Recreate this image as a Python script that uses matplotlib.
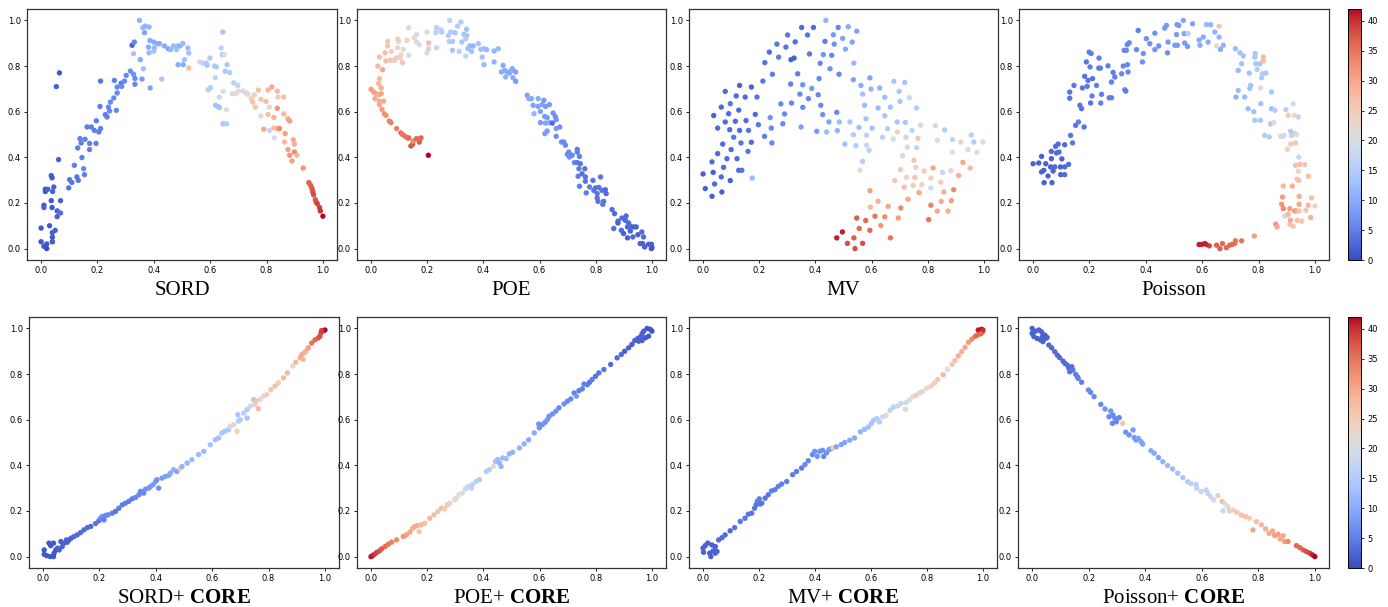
import numpy as np
import matplotlib
matplotlib.use('Agg')
import matplotlib.pyplot as plt

plt.rcParams['mathtext.fontset'] = 'custom'
plt.rcParams['mathtext.rm'] = 'Liberation Serif'
plt.rcParams['mathtext.bf'] = 'Liberation Serif:bold'

# --- data: (x, y, label value), one list per panel ---
sord = [
    (0.00, 0.09, 1), (0.00, 0.03, 1), (0.01, 0.01, 1), (0.02, 0.00, 0), (0.02, 0.02, 1),
    (0.03, 0.10, 1), (0.04, 0.03, 1), (0.04, 0.07, 2), (0.04, 0.05, 1), (0.04, 0.03, 2),
    (0.05, 0.08, 2), (0.01, 0.19, 1), (0.01, 0.18, 2), (0.015, 0.26, 1), (0.015, 0.25, 1),
    (0.024, 0.26, 2), (0.036, 0.21, 1), (0.036, 0.32, 2), (0.039, 0.31, 1), (0.039, 0.18, 1),
    (0.041, 0.25, 2), (0.045, 0.27, 2), (0.057, 0.165, 2), (0.057, 0.14, 2), (0.069, 0.21, 2),
    (0.069, 0.156, 3), (0.062, 0.39, 2), (0.054, 0.71, 2), (0.065, 0.77, 1),
    (0.098, 0.266, 4), (0.101, 0.302, 4), (0.109, 0.29, 4), (0.118, 0.365, 5), (0.127, 0.314, 4),
    (0.132, 0.299, 4), (0.130, 0.441, 5), (0.138, 0.482, 5), (0.142, 0.463, 5), (0.145, 0.399, 5),
    (0.151, 0.350, 6), (0.154, 0.324, 5), (0.156, 0.479, 5), (0.163, 0.533, 5), (0.172, 0.461, 5),
    (0.172, 0.434, 5), (0.178, 0.533, 5), (0.189, 0.518, 5), (0.196, 0.560, 5), (0.195, 0.461, 5),
    (0.205, 0.511, 5), (0.211, 0.526, 5), (0.209, 0.623, 5), (0.211, 0.734, 4), (0.228, 0.587, 5),
    (0.234, 0.577, 5), (0.239, 0.620, 6), (0.243, 0.603, 6), (0.246, 0.642, 6), (0.258, 0.660, 6),
    (0.260, 0.737, 5), (0.267, 0.606, 6), (0.270, 0.682, 6), (0.270, 0.708, 6), (0.284, 0.725, 5),
    (0.286, 0.711, 6), (0.296, 0.734, 6), (0.302, 0.759, 6), (0.317, 0.778, 7), (0.323, 0.891, 2),
    (0.328, 0.764, 7), (0.333, 0.745, 6), (0.333, 0.720, 6), (0.331, 0.905, 6),
    (0.328, 0.854, 13), (0.352, 0.828, 10), (0.358, 0.743, 8), (0.363, 0.788, 13), (0.349, 1.00, 11),
    (0.361, 0.968, 12), (0.367, 0.946, 9), (0.369, 0.975, 11), (0.383, 0.971, 11), (0.381, 0.883, 10),
    (0.383, 0.858, 12), (0.386, 0.912, 10), (0.387, 0.704, 9), (0.400, 0.905, 10), (0.400, 0.865, 13),
    (0.402, 0.880, 12), (0.414, 0.898, 10), (0.420, 0.898, 10), (0.428, 0.743, 14), (0.438, 0.888, 10),
    (0.452, 0.875, 9), (0.459, 0.872, 11), (0.470, 0.888, 12), (0.480, 0.872, 13), (0.485, 0.888, 12),
    (0.486, 0.806, 10), (0.493, 0.888, 11), (0.503, 0.899, 12), (0.504, 0.806, 10), (0.509, 0.828, 13),
    (0.521, 0.879, 12), (0.524, 0.857, 13), (0.524, 0.791, 27),
    (0.563, 0.818, 24), (0.574, 0.813, 16), (0.586, 0.813, 15), (0.589, 0.803, 14), (0.593, 0.696, 16),
    (0.601, 0.705, 15), (0.599, 0.835, 15), (0.615, 0.800, 16), (0.618, 0.749, 17), (0.621, 0.796, 14),
    (0.619, 0.628, 13), (0.627, 0.623, 13), (0.633, 0.618, 13), (0.633, 0.664, 18), (0.639, 0.879, 17),
    (0.645, 0.949, 14), (0.644, 0.850, 13), (0.650, 0.850, 20), (0.646, 0.689, 21), (0.645, 0.547, 14),
    (0.658, 0.547, 15), (0.658, 0.609, 21), (0.653, 0.777, 14), (0.660, 0.806, 14), (0.669, 0.771, 15),
    (0.684, 0.726, 16), (0.679, 0.679, 21), (0.691, 0.679, 22), (0.698, 0.715, 17), (0.700, 0.690, 21),
    (0.716, 0.690, 20), (0.728, 0.682, 18), (0.734, 0.676, 22),
    (0.746, 0.657, 25), (0.751, 0.642, 27), (0.760, 0.620, 26), (0.757, 0.674, 23), (0.771, 0.695, 27),
    (0.780, 0.580, 21), (0.780, 0.654, 26), (0.790, 0.523, 30), (0.798, 0.645, 27), (0.805, 0.588, 27),
    (0.805, 0.695, 28), (0.810, 0.620, 22), (0.810, 0.518, 18), (0.819, 0.708, 30), (0.826, 0.575, 29),
    (0.826, 0.529, 27), (0.828, 0.485, 20), (0.838, 0.690, 28), (0.838, 0.615, 32), (0.840, 0.664, 25),
    (0.838, 0.526, 29), (0.846, 0.526, 33), (0.861, 0.664, 27), (0.861, 0.590, 28), (0.864, 0.467, 28),
    (0.866, 0.504, 31), (0.876, 0.569, 30), (0.882, 0.559, 31), (0.876, 0.434, 31), (0.882, 0.409, 32),
    (0.890, 0.384, 31), (0.895, 0.477, 30), (0.899, 0.458, 29), (0.899, 0.423, 33), (0.908, 0.409, 28),
    (0.930, 0.353, 32),
    (0.950, 0.289, 37), (0.955, 0.280, 36), (0.959, 0.270, 37), (0.962, 0.260, 37), (0.964, 0.248, 38),
    (0.967, 0.236, 38), (0.973, 0.215, 37), (0.976, 0.204, 38), (0.980, 0.197, 39), (0.988, 0.180, 39),
    (0.991, 0.165, 40), (1.000, 0.142, 42),
]

poe = [
    (0.204, 0.409, 42), (0.142, 0.450, 38), (0.148, 0.457, 37), (0.150, 0.471, 33), (0.162, 0.482, 36),
    (0.172, 0.467, 37), (0.172, 0.479, 36), (0.178, 0.485, 36), (0.130, 0.485, 36), (0.134, 0.485, 36),
    (0.121, 0.492, 35), (0.112, 0.500, 35), (0.106, 0.507, 35), (0.091, 0.526, 34), (0.071, 0.552, 34),
    (0.065, 0.559, 34), (0.053, 0.584, 32), (0.047, 0.591, 32), (0.039, 0.610, 31), (0.045, 0.646, 30),
    (0.030, 0.631, 30), (0.030, 0.645, 30), (0.014, 0.657, 30), (0.027, 0.674, 30), (0.036, 0.679, 30),
    (0.018, 0.679, 29), (0.009, 0.686, 31), (0.000, 0.698, 31), (0.036, 0.704, 29), (0.027, 0.723, 28),
    (0.030, 0.745, 28), (0.041, 0.784, 30), (0.024, 0.800, 28), (0.030, 0.839, 27), (0.050, 0.858, 27),
    (0.053, 0.822, 27), (0.059, 0.888, 26), (0.059, 0.908, 26), (0.068, 0.825, 26), (0.073, 0.864, 24),
    (0.083, 0.825, 25), (0.089, 0.836, 25), (0.095, 0.918, 25), (0.098, 0.908, 24), (0.095, 0.880, 22),
    (0.106, 0.849, 23), (0.104, 0.836, 24), (0.112, 0.815, 26), (0.115, 0.873, 23), (0.128, 0.912, 24),
    (0.134, 0.968, 22), (0.134, 0.847, 20), (0.154, 0.924, 22), (0.162, 0.939, 20), (0.162, 0.905, 19),
    (0.172, 0.894, 21), (0.199, 0.949, 21), (0.199, 0.858, 22), (0.205, 0.876, 18), (0.205, 0.901, 27),
    (0.231, 0.946, 16), (0.233, 0.968, 16), (0.233, 0.880, 18), (0.248, 0.959, 17), (0.252, 0.949, 15),
    (0.275, 0.934, 15), (0.278, 0.908, 15), (0.280, 1.000, 17), (0.284, 0.949, 15), (0.290, 0.908, 14),
    (0.290, 0.869, 14), (0.299, 0.946, 14), (0.308, 0.975, 15), (0.314, 0.864, 16), (0.320, 0.993, 15),
    (0.323, 0.905, 14), (0.331, 0.939, 13), (0.337, 0.920, 15), (0.340, 0.961, 13), (0.337, 0.844, 17),
    (0.341, 0.934, 14), (0.345, 0.876, 13), (0.351, 0.888, 12), (0.358, 0.864, 13), (0.363, 0.888, 11),
    (0.382, 0.898, 13), (0.391, 0.873, 13), (0.396, 0.839, 13), (0.402, 0.806, 12), (0.402, 0.876, 13),
    (0.412, 0.872, 12), (0.438, 0.866, 11), (0.453, 0.876, 12), (0.438, 0.818, 11), (0.470, 0.803, 10),
    (0.464, 0.774, 10), (0.476, 0.781, 10), (0.479, 0.752, 11), (0.485, 0.774, 10), (0.493, 0.769, 10),
    (0.503, 0.788, 9), (0.501, 0.781, 10), (0.505, 0.749, 10), (0.515, 0.774, 9), (0.515, 0.733, 8),
    (0.556, 0.672, 9), (0.562, 0.657, 10), (0.571, 0.657, 10), (0.577, 0.628, 9), (0.580, 0.591, 11),
    (0.595, 0.657, 10), (0.594, 0.623, 9), (0.603, 0.601, 9), (0.603, 0.552, 8), (0.609, 0.631, 9),
    (0.615, 0.650, 8), (0.618, 0.579, 8), (0.621, 0.550, 9), (0.621, 0.623, 8), (0.627, 0.574, 8),
    (0.619, 0.504, 8), (0.627, 0.515, 8), (0.635, 0.631, 8), (0.635, 0.552, 10), (0.645, 0.550, 3),
    (0.648, 0.594, 7), (0.656, 0.579, 7), (0.659, 0.526, 8), (0.659, 0.492, 7), (0.659, 0.565, 7),
    (0.672, 0.533, 7), (0.678, 0.467, 7), (0.686, 0.467, 6), (0.692, 0.453, 6), (0.699, 0.413, 6),
    (0.704, 0.423, 6), (0.706, 0.401, 7), (0.716, 0.409, 6), (0.724, 0.377, 6), (0.734, 0.435, 5),
    (0.734, 0.423, 5), (0.734, 0.377, 5), (0.740, 0.350, 5), (0.737, 0.317, 5), (0.742, 0.404, 5),
    (0.742, 0.273, 5), (0.745, 0.372, 4), (0.751, 0.328, 4), (0.761, 0.350, 4), (0.763, 0.314, 4),
    (0.763, 0.295, 4), (0.766, 0.244, 5), (0.778, 0.270, 5), (0.790, 0.299, 4), (0.793, 0.255, 4),
    (0.799, 0.266, 4), (0.805, 0.241, 4), (0.805, 0.222, 4), (0.808, 0.207, 4), (0.811, 0.268, 4),
    (0.817, 0.314, 4), (0.822, 0.255, 4), (0.825, 0.194, 4), (0.828, 0.207, 4), (0.834, 0.258, 3),
    (0.837, 0.241, 3), (0.858, 0.171, 3), (0.867, 0.153, 3), (0.864, 0.088, 3), (0.879, 0.120, 3),
    (0.879, 0.112, 2), (0.891, 0.080, 3), (0.893, 0.134, 3), (0.899, 0.066, 2), (0.905, 0.124, 3),
    (0.908, 0.143, 3), (0.913, 0.047, 2), (0.913, 0.095, 2), (0.917, 0.112, 3), (0.923, 0.077, 2),
    (0.923, 0.098, 3), (0.932, 0.051, 3), (0.935, 0.095, 2), (0.944, 0.095, 2), (0.950, 0.061, 2),
    (0.958, 0.022, 2), (0.964, 0.073, 3), (0.967, 0.022, 2), (0.970, 0.051, 3), (0.974, 0.007, 2),
    (0.988, 0.019, 2), (0.998, 0.019, 2), (0.998, 0.000, 1), (1.000, 0.004, 1),
]

mv = [
    (0.000, 0.327, 2), (0.008, 0.263, 2), (0.032, 0.229, 2), (0.032, 0.380, 3), (0.036, 0.334, 2),
    (0.038, 0.583, 2), (0.041, 0.283, 3), (0.052, 0.528, 3), (0.052, 0.416, 3), (0.065, 0.620, 3),
    (0.065, 0.314, 3), (0.067, 0.248, 2), (0.070, 0.458, 3), (0.073, 0.356, 3), (0.079, 0.689, 3),
    (0.079, 0.555, 3), (0.085, 0.394, 3), (0.091, 0.591, 3), (0.095, 0.521, 3), (0.097, 0.635, 4),
    (0.097, 0.298, 2), (0.100, 0.434, 3), (0.109, 0.488, 4), (0.115, 0.558, 3), (0.118, 0.669, 3),
    (0.121, 0.394, 3), (0.127, 0.343, 3), (0.127, 0.607, 3), (0.130, 0.715, 2), (0.130, 0.518, 3),
    (0.135, 0.463, 4), (0.138, 0.343, 4), (0.150, 0.664, 3), (0.153, 0.561, 3), (0.162, 0.518, 4),
    (0.160, 0.426, 4), (0.172, 0.708, 2), (0.172, 0.466, 3), (0.175, 0.309, 12), (0.186, 0.588, 3),
    (0.192, 0.664, 4), (0.197, 0.543, 4), (0.213, 0.734, 4), (0.219, 0.492, 5), (0.220, 0.815, 4),
    (0.236, 0.861, 3), (0.239, 0.574, 7), (0.243, 0.528, 6), (0.245, 0.463, 6), (0.247, 0.764, 5),
    (0.263, 0.896, 4), (0.269, 0.839, 5), (0.277, 0.634, 6), (0.284, 0.547, 6), (0.290, 0.590, 6),
    (0.295, 0.883, 4), (0.301, 0.936, 4), (0.312, 0.721, 5), (0.315, 0.638, 6), (0.313, 0.828, 2),
    (0.324, 0.835, 2), (0.328, 0.906, 3), (0.337, 0.766, 5), (0.345, 0.677, 6), (0.349, 0.533, 9),
    (0.351, 0.969, 3), (0.355, 0.619, 6), (0.355, 0.718, 7), (0.372, 0.936, 4), (0.375, 0.657, 6),
    (0.379, 0.853, 4), (0.387, 0.702, 8), (0.393, 0.969, 3), (0.405, 0.514, 8), (0.410, 0.674, 6),
    (0.413, 0.745, 6), (0.417, 0.812, 6), (0.419, 0.628, 6), (0.426, 0.587, 7), (0.428, 0.850, 7),
    (0.434, 0.908, 5), (0.437, 1.000, 11), (0.440, 0.511, 12), (0.448, 0.555, 9), (0.452, 0.788, 7),
    (0.458, 0.847, 6), (0.464, 0.937, 8), (0.467, 0.896, 7), (0.476, 0.597, 6), (0.478, 0.517, 11),
    (0.481, 0.969, 6), (0.484, 0.764, 6), (0.485, 0.555, 12), (0.497, 0.921, 9), (0.505, 0.458, 13),
    (0.507, 0.874, 10), (0.517, 0.972, 10), (0.523, 0.555, 14), (0.531, 0.905, 9), (0.535, 0.499, 15),
    (0.535, 0.740, 9), (0.537, 0.813, 12), (0.547, 0.953, 9), (0.544, 0.451, 15), (0.555, 0.531, 13),
    (0.559, 0.343, 21), (0.562, 0.715, 10), (0.568, 0.382, 15), (0.568, 0.677, 13), (0.575, 0.628, 12),
    (0.580, 0.569, 13), (0.582, 0.496, 16), (0.582, 0.453, 18), (0.591, 0.431, 16), (0.594, 0.748, 9),
    (0.594, 0.254, 31), (0.598, 0.699, 11), (0.596, 0.182, 28), (0.602, 0.528, 13), (0.547, 0.134, 37),
    (0.579, 0.123, 36), (0.556, 0.088, 36), (0.594, 0.080, 36), (0.612, 0.142, 35), (0.623, 0.207, 29),
    (0.623, 0.616, 12), (0.629, 0.704, 11), (0.633, 0.101, 32), (0.639, 0.488, 16), (0.647, 0.139, 33),
    (0.647, 0.663, 12), (0.647, 0.582, 14), (0.657, 0.525, 15), (0.659, 0.185, 30), (0.667, 0.620, 13),
    (0.667, 0.047, 35), (0.677, 0.480, 20), (0.679, 0.733, 14), (0.683, 0.298, 26), (0.691, 0.555, 14),
    (0.692, 0.511, 24), (0.695, 0.134, 31), (0.698, 0.689, 14), (0.701, 0.645, 14), (0.703, 0.346, 25),
    (0.704, 0.178, 33), (0.710, 0.407, 23), (0.716, 0.269, 27), (0.718, 0.728, 14), (0.720, 0.553, 14),
    (0.722, 0.488, 18), (0.724, 0.312, 24), (0.727, 0.445, 20), (0.730, 0.216, 30), (0.734, 0.661, 18),
    (0.744, 0.518, 17), (0.748, 0.277, 25), (0.751, 0.387, 26), (0.754, 0.312, 26), (0.757, 0.356, 24),
    (0.760, 0.616, 15), (0.760, 0.442, 17), (0.765, 0.483, 26), (0.769, 0.245, 30), (0.774, 0.541, 19),
    (0.779, 0.280, 24), (0.787, 0.340, 25), (0.811, 0.266, 20), (0.811, 0.309, 24), (0.803, 0.127, 35),
    (0.811, 0.190, 34), (0.819, 0.353, 30), (0.827, 0.539, 19), (0.834, 0.164, 30), (0.834, 0.474, 20),
    (0.846, 0.291, 25), (0.848, 0.207, 30), (0.852, 0.334, 18), (0.857, 0.248, 29), (0.860, 0.520, 15),
    (0.872, 0.164, 29), (0.882, 0.341, 22), (0.884, 0.210, 31), (0.888, 0.478, 17), (0.888, 0.423, 21),
    (0.892, 0.258, 33), (0.910, 0.320, 29), (0.917, 0.467, 23), (0.925, 0.378, 30), (0.943, 0.434, 22),
    (0.951, 0.353, 28), (0.955, 0.498, 16), (0.964, 0.467, 15), (0.975, 0.422, 21), (0.996, 0.467, 20),
    (0.476, 0.047, 41), (0.496, 0.073, 41), (0.514, 0.023, 38), (0.537, 0.047, 37), (0.541, 0.000, 38),
    (0.568, 0.023, 38),
]

poisson = [
    (0.000, 0.372, 2), (0.020, 0.375, 2), (0.030, 0.404, 2), (0.030, 0.336, 2), (0.038, 0.343, 2),
    (0.039, 0.289, 2), (0.045, 0.372, 2), (0.053, 0.318, 2), (0.062, 0.358, 2), (0.065, 0.394, 2),
    (0.065, 0.426, 3), (0.067, 0.289, 2), (0.071, 0.340, 2), (0.077, 0.358, 3), (0.080, 0.448, 3),
    (0.083, 0.419, 3), (0.089, 0.458, 3), (0.092, 0.423, 3), (0.097, 0.358, 2), (0.098, 0.324, 2),
    (0.102, 0.393, 2), (0.112, 0.455, 3), (0.112, 0.358, 3), (0.112, 0.324, 3), (0.126, 0.369, 3),
    (0.130, 0.686, 4), (0.130, 0.659, 4), (0.133, 0.496, 4), (0.140, 0.463, 4), (0.145, 0.715, 4),
    (0.151, 0.540, 4), (0.161, 0.555, 5), (0.166, 0.628, 4), (0.172, 0.613, 4), (0.175, 0.704, 4),
    (0.181, 0.533, 4), (0.183, 0.755, 4), (0.189, 0.818, 4), (0.192, 0.711, 4), (0.195, 0.737, 4),
    (0.199, 0.861, 5), (0.202, 0.796, 5), (0.204, 0.638, 4), (0.206, 0.855, 5), (0.209, 0.669, 5),
    (0.211, 0.745, 4), (0.225, 0.715, 5), (0.233, 0.791, 5), (0.234, 0.835, 5), (0.239, 0.791, 5),
    (0.240, 0.638, 5), (0.243, 0.676, 5), (0.266, 0.801, 5), (0.270, 0.661, 5), (0.278, 0.661, 5),
    (0.278, 0.730, 5), (0.284, 0.772, 5), (0.290, 0.752, 5), (0.314, 0.766, 6), (0.320, 0.800, 6),
    (0.323, 0.869, 6), (0.325, 0.696, 6), (0.329, 0.690, 5), (0.331, 0.869, 6), (0.334, 0.894, 6),
    (0.335, 0.806, 6), (0.337, 0.774, 6), (0.341, 0.902, 6), (0.367, 0.872, 6), (0.373, 0.956, 5),
    (0.388, 0.818, 7), (0.391, 0.855, 7), (0.402, 0.920, 7), (0.414, 0.898, 7), (0.432, 0.872, 7),
    (0.432, 0.944, 7), (0.446, 0.888, 7), (0.467, 0.966, 8), (0.473, 0.978, 8), (0.477, 0.858, 7),
    (0.479, 0.905, 8), (0.503, 0.891, 8), (0.509, 0.938, 8), (0.511, 0.981, 8), (0.517, 0.978, 8),
    (0.512, 0.891, 8), (0.533, 1.000, 9), (0.536, 0.942, 9), (0.538, 0.901, 8), (0.548, 0.886, 8),
    (0.550, 0.942, 16), (0.566, 0.985, 9), (0.589, 0.914, 10), (0.592, 0.891, 10), (0.604, 0.927, 10),
    (0.615, 0.982, 12), (0.621, 0.905, 10), (0.630, 0.981, 11), (0.645, 0.949, 11), (0.651, 0.888, 22),
    (0.660, 0.974, 26), (0.660, 0.927, 11), (0.665, 0.873, 10), (0.675, 0.891, 11), (0.718, 0.876, 12),
    (0.720, 0.664, 11), (0.728, 0.693, 12), (0.728, 0.781, 12), (0.734, 0.858, 13), (0.740, 0.810, 13),
    (0.746, 0.845, 13), (0.751, 0.664, 12), (0.763, 0.613, 12), (0.767, 0.769, 13), (0.769, 0.702, 13),
    (0.772, 0.715, 13), (0.783, 0.600, 13), (0.787, 0.562, 14), (0.788, 0.855, 14), (0.787, 0.839, 14),
    (0.790, 0.810, 14), (0.795, 0.785, 15), (0.805, 0.810, 14), (0.807, 0.704, 21), (0.807, 0.562, 14),
    (0.808, 0.635, 13), (0.811, 0.749, 14), (0.814, 0.766, 15), (0.817, 0.839, 28), (0.817, 0.822, 27),
    (0.822, 0.496, 15), (0.826, 0.769, 14), (0.838, 0.489, 15), (0.843, 0.547, 14), (0.846, 0.686, 14),
    (0.846, 0.613, 13), (0.854, 0.552, 22), (0.858, 0.606, 15), (0.878, 0.492, 22), (0.885, 0.492, 19),
    (0.891, 0.496, 20), (0.897, 0.609, 16), (0.902, 0.435, 24), (0.905, 0.584, 25), (0.914, 0.458, 25),
    (0.914, 0.514, 15), (0.917, 0.496, 17), (0.923, 0.635, 20), (0.927, 0.584, 22), (0.930, 0.504, 26),
    (0.931, 0.463, 26), (0.935, 0.499, 21), (0.941, 0.577, 17), (0.943, 0.401, 18), (0.931, 0.365, 27),
    (0.937, 0.304, 27), (0.941, 0.339, 24), (0.943, 0.299, 27), (0.947, 0.369, 27), (0.964, 0.368, 26),
    (0.977, 0.317, 27), (0.920, 0.274, 29), (0.888, 0.274, 28), (0.885, 0.226, 31), (0.882, 0.194, 32),
    (0.888, 0.175, 33), (0.861, 0.107, 32), (0.866, 0.095, 30), (0.893, 0.142, 19), (0.905, 0.150, 28),
    (0.911, 0.175, 31), (0.913, 0.124, 30), (0.911, 0.107, 27), (0.923, 0.098, 26), (0.929, 0.165, 33),
    (0.935, 0.165, 30), (0.937, 0.124, 27), (0.944, 0.229, 29), (0.944, 0.194, 30), (0.944, 0.165, 26),
    (0.953, 0.120, 26), (0.968, 0.168, 26), (0.976, 0.190, 28), (0.988, 0.222, 27), (0.985, 0.136, 29),
    (1.000, 0.187, 24), (0.785, 0.055, 31), (0.740, 0.034, 35), (0.718, 0.034, 35), (0.716, 0.022, 35),
    (0.706, 0.018, 36), (0.698, 0.015, 36), (0.686, 0.004, 36), (0.672, 0.022, 36), (0.663, 0.000, 37),
    (0.651, 0.015, 37), (0.625, 0.012, 39), (0.615, 0.018, 40), (0.609, 0.022, 41), (0.598, 0.018, 41),
    (0.589, 0.018, 41),
]

sord_core = [
    (0.004, 0.029, 1), (0.004, 0.010, 1), (0.013, 0.004, 1), (0.025, 0.000, 1), (0.037, 0.000, 1),
    (0.039, 0.015, 1), (0.021, 0.059, 1), (0.027, 0.048, 1), (0.037, 0.059, 1), (0.045, 0.029, 1),
    (0.051, 0.037, 2), (0.057, 0.029, 2), (0.063, 0.066, 2), (0.068, 0.044, 2), (0.074, 0.059, 2),
    (0.083, 0.073, 2), (0.086, 0.063, 2), (0.092, 0.073, 2), (0.100, 0.081, 2), (0.110, 0.088, 3),
    (0.121, 0.095, 3), (0.133, 0.105, 3), (0.145, 0.117, 3), (0.157, 0.127, 3), (0.169, 0.132, 3),
    (0.186, 0.145, 4), (0.198, 0.157, 4), (0.204, 0.168, 6), (0.210, 0.176, 7), (0.216, 0.161, 5),
    (0.222, 0.180, 6), (0.230, 0.183, 6), (0.245, 0.190, 5), (0.257, 0.198, 4), (0.269, 0.212, 5),
    (0.281, 0.227, 5), (0.292, 0.234, 5), (0.304, 0.242, 5), (0.316, 0.253, 5), (0.328, 0.259, 6),
    (0.340, 0.271, 6), (0.346, 0.286, 6), (0.357, 0.278, 6), (0.363, 0.295, 7), (0.375, 0.300, 7),
    (0.381, 0.307, 8), (0.390, 0.315, 8), (0.399, 0.329, 8), (0.404, 0.337, 7), (0.410, 0.300, 7),
    (0.422, 0.344, 8), (0.434, 0.351, 9), (0.446, 0.356, 9), (0.452, 0.366, 10), (0.463, 0.381, 11),
    (0.475, 0.373, 9), (0.485, 0.385, 26), (0.493, 0.395, 11), (0.511, 0.410, 11), (0.528, 0.425, 12),
    (0.552, 0.447, 12), (0.570, 0.461, 12), (0.593, 0.490, 13), (0.611, 0.512, 13), (0.623, 0.520, 13),
    (0.634, 0.542, 14), (0.644, 0.549, 14), (0.658, 0.556, 14), (0.664, 0.571, 23), (0.676, 0.578, 22),
    (0.688, 0.549, 24), (0.693, 0.593, 16), (0.700, 0.600, 15), (0.691, 0.622, 14), (0.712, 0.629, 15),
    (0.724, 0.644, 15), (0.724, 0.607, 14), (0.735, 0.659, 18), (0.747, 0.688, 14), (0.751, 0.666, 24),
    (0.756, 0.681, 27), (0.764, 0.648, 28), (0.770, 0.688, 22), (0.782, 0.703, 23), (0.794, 0.710, 24),
    (0.808, 0.732, 26), (0.823, 0.747, 27), (0.835, 0.762, 25), (0.853, 0.783, 28), (0.867, 0.805, 28),
    (0.886, 0.835, 22), (0.897, 0.852, 28), (0.912, 0.871, 29), (0.918, 0.885, 30), (0.926, 0.893, 29),
    (0.933, 0.900, 29), (0.923, 0.864, 28), (0.941, 0.915, 31), (0.953, 0.936, 35), (0.965, 0.950, 36),
    (0.976, 0.958, 37), (0.982, 0.965, 38), (0.986, 0.980, 38), (0.994, 0.990, 40), (1.000, 0.993, 42),
    (0.988, 0.990, 39),
]

poe_core = [
    (0.000, 0.000, 42), (0.005, 0.004, 41), (0.012, 0.010, 40), (0.020, 0.018, 39), (0.030, 0.025, 38),
    (0.038, 0.034, 37), (0.050, 0.044, 36), (0.061, 0.054, 35), (0.073, 0.063, 34), (0.091, 0.073, 33),
    (0.115, 0.088, 32), (0.126, 0.095, 31), (0.138, 0.107, 30), (0.148, 0.124, 29), (0.156, 0.132, 30),
    (0.164, 0.136, 29), (0.171, 0.110, 26), (0.179, 0.139, 28), (0.191, 0.146, 27), (0.209, 0.168, 28),
    (0.224, 0.183, 27), (0.238, 0.198, 26), (0.250, 0.212, 27), (0.262, 0.209, 25), (0.272, 0.227, 26),
    (0.280, 0.234, 24), (0.298, 0.249, 21), (0.303, 0.256, 22), (0.313, 0.271, 21), (0.325, 0.278, 20),
    (0.336, 0.297, 18), (0.345, 0.307, 17), (0.357, 0.300, 17), (0.360, 0.315, 16), (0.374, 0.329, 16),
    (0.386, 0.337, 15), (0.410, 0.373, 15), (0.421, 0.381, 15), (0.436, 0.395, 22), (0.443, 0.417, 13),
    (0.451, 0.425, 12), (0.457, 0.410, 11), (0.463, 0.395, 11), (0.469, 0.432, 12), (0.481, 0.429, 12),
    (0.492, 0.450, 11), (0.504, 0.457, 11), (0.528, 0.476, 11), (0.545, 0.494, 11), (0.561, 0.512, 10),
    (0.581, 0.542, 10), (0.597, 0.581, 7), (0.599, 0.564, 7), (0.610, 0.578, 7), (0.620, 0.589, 7),
    (0.628, 0.600, 8), (0.634, 0.615, 7), (0.646, 0.625, 7), (0.658, 0.637, 7), (0.669, 0.652, 6),
    (0.687, 0.669, 7), (0.699, 0.681, 6), (0.711, 0.691, 6), (0.723, 0.717, 5), (0.731, 0.703, 8),
    (0.740, 0.727, 5), (0.752, 0.735, 5), (0.758, 0.756, 5), (0.770, 0.753, 5), (0.778, 0.764, 4),
    (0.787, 0.776, 5), (0.799, 0.790, 4), (0.811, 0.805, 4), (0.829, 0.820, 4), (0.853, 0.842, 3),
    (0.876, 0.871, 3), (0.891, 0.886, 3), (0.903, 0.900, 2), (0.917, 0.915, 2), (0.929, 0.930, 2),
    (0.939, 0.947, 2), (0.950, 0.956, 2), (0.959, 0.963, 2), (0.965, 0.977, 2), (0.971, 0.988, 2),
    (0.983, 1.000, 1), (0.994, 0.996, 1), (1.000, 0.988, 1), (0.988, 0.966, 1), (0.977, 0.959, 1),
    (0.965, 0.947, 2), (0.953, 0.944, 2),
]

mv_core = [
    (0.000, 0.037, 2), (0.002, 0.019, 2), (0.008, 0.048, 2), (0.017, 0.059, 2), (0.024, 0.015, 2),
    (0.028, 0.000, 2), (0.036, 0.025, 2), (0.044, 0.015, 2), (0.044, 0.044, 2), (0.050, 0.022, 2),
    (0.032, 0.051, 2), (0.056, 0.073, 3), (0.068, 0.083, 3), (0.079, 0.095, 3), (0.097, 0.113, 3),
    (0.113, 0.127, 4), (0.133, 0.154, 4), (0.150, 0.168, 4), (0.162, 0.186, 4), (0.174, 0.190, 4),
    (0.184, 0.212, 4), (0.190, 0.227, 4), (0.194, 0.242, 5), (0.201, 0.253, 5), (0.204, 0.230, 5),
    (0.210, 0.234, 4), (0.222, 0.256, 4), (0.233, 0.271, 4), (0.245, 0.288, 5), (0.257, 0.293, 5),
    (0.269, 0.308, 5), (0.281, 0.318, 5), (0.299, 0.329, 5), (0.320, 0.359, 5), (0.334, 0.373, 5),
    (0.352, 0.388, 5), (0.364, 0.403, 6), (0.376, 0.420, 6), (0.391, 0.447, 6), (0.399, 0.461, 7),
    (0.408, 0.439, 7), (0.417, 0.461, 7), (0.427, 0.466, 7), (0.431, 0.439, 6), (0.441, 0.454, 7),
    (0.450, 0.469, 8), (0.458, 0.473, 8), (0.464, 0.476, 25), (0.476, 0.481, 9), (0.494, 0.491, 9),
    (0.506, 0.500, 9), (0.524, 0.510, 10), (0.541, 0.520, 10), (0.562, 0.547, 11), (0.577, 0.558, 12),
    (0.591, 0.568, 13), (0.601, 0.583, 14), (0.609, 0.597, 14), (0.621, 0.605, 15), (0.630, 0.590, 15),
    (0.642, 0.612, 18), (0.654, 0.619, 22), (0.668, 0.641, 17), (0.680, 0.656, 16), (0.695, 0.660, 18),
    (0.707, 0.671, 18), (0.723, 0.646, 22), (0.725, 0.675, 19), (0.737, 0.685, 21), (0.749, 0.700, 22),
    (0.761, 0.707, 25), (0.773, 0.717, 23), (0.784, 0.723, 22), (0.799, 0.738, 22), (0.814, 0.747, 24),
    (0.826, 0.760, 25), (0.838, 0.776, 26), (0.858, 0.797, 28), (0.873, 0.820, 20), (0.889, 0.842, 26),
    (0.900, 0.859, 27), (0.912, 0.880, 29), (0.924, 0.898, 29), (0.936, 0.917, 30), (0.948, 0.939, 31),
    (0.960, 0.953, 33), (0.972, 0.965, 35), (0.980, 0.971, 36), (0.992, 0.980, 37), (0.998, 0.985, 38),
    (0.983, 0.993, 41), (0.995, 0.996, 42), (1.000, 0.993, 40), (0.992, 0.976, 36),
]

poisson_core = [
    (0.000, 1.000, 2), (0.000, 0.978, 2), (0.006, 0.964, 2), (0.012, 0.988, 2), (0.018, 0.956, 2),
    (0.024, 0.993, 2), (0.030, 0.949, 2), (0.033, 0.985, 2), (0.038, 0.942, 2), (0.045, 0.971, 2),
    (0.047, 0.956, 2), (0.036, 0.964, 2), (0.053, 0.960, 2), (0.059, 0.927, 3), (0.069, 0.915, 3),
    (0.080, 0.898, 3), (0.089, 0.883, 3), (0.097, 0.872, 3), (0.109, 0.857, 3), (0.116, 0.847, 3),
    (0.124, 0.839, 3), (0.130, 0.825, 3), (0.133, 0.810, 4), (0.140, 0.832, 3), (0.144, 0.818, 4),
    (0.154, 0.799, 5), (0.160, 0.788, 5), (0.163, 0.781, 5), (0.175, 0.764, 5), (0.199, 0.730, 6),
    (0.207, 0.720, 6), (0.219, 0.701, 6), (0.243, 0.667, 6), (0.258, 0.647, 7), (0.278, 0.638, 7),
    (0.272, 0.613, 6), (0.286, 0.620, 6), (0.293, 0.606, 6), (0.284, 0.584, 6), (0.298, 0.591, 6),
    (0.308, 0.609, 6), (0.320, 0.584, 26), (0.331, 0.545, 7), (0.343, 0.533, 7), (0.357, 0.555, 8),
    (0.361, 0.522, 8), (0.367, 0.511, 8), (0.376, 0.518, 9), (0.385, 0.504, 9), (0.391, 0.493, 9),
    (0.420, 0.464, 10), (0.432, 0.453, 10), (0.447, 0.434, 9), (0.462, 0.416, 11), (0.479, 0.399, 12),
    (0.497, 0.384, 12), (0.515, 0.365, 13), (0.533, 0.346, 14), (0.550, 0.328, 15), (0.562, 0.320, 16),
    (0.580, 0.316, 16), (0.582, 0.299, 17), (0.598, 0.285, 17), (0.615, 0.292, 17), (0.621, 0.277, 17),
    (0.631, 0.263, 18), (0.642, 0.248, 19), (0.657, 0.267, 25), (0.672, 0.241, 27), (0.675, 0.201, 18),
    (0.684, 0.229, 21), (0.692, 0.219, 22), (0.698, 0.200, 25), (0.710, 0.204, 24), (0.724, 0.194, 26),
    (0.740, 0.182, 27), (0.755, 0.175, 27), (0.769, 0.168, 25), (0.781, 0.117, 30), (0.793, 0.153, 27),
    (0.811, 0.139, 28), (0.826, 0.121, 29), (0.838, 0.102, 30), (0.850, 0.112, 30), (0.858, 0.092, 31),
    (0.870, 0.098, 31), (0.878, 0.077, 30), (0.888, 0.091, 30), (0.893, 0.066, 31), (0.905, 0.066, 33),
    (0.935, 0.048, 36), (0.947, 0.039, 36), (0.959, 0.029, 37), (0.970, 0.022, 38), (0.982, 0.015, 39),
    (0.992, 0.007, 41), (1.000, 0.000, 42),
]

top_names = ['SORD', 'POE', 'MV', 'Poisson']
bottom_names = [r'SORD+ $\mathbf{CORE}$', r'POE+ $\mathbf{CORE}$',
                r'MV+ $\mathbf{CORE}$', r'Poisson+ $\mathbf{CORE}$']
top_data = [sord, poe, mv, poisson]
bottom_data = [sord_core, poe_core, mv_core, poisson_core]
cbar_ticks = [0, 5, 10, 15, 20, 25, 30, 35, 40]
vmax = 42

W, H = 1388, 607
fig = plt.figure(figsize=(W / 100, H / 100), dpi=100)

# axes boxes in pixels: (left, right) per column, (top, bottom) per row
top_cols = [(27, 337), (357, 666), (689, 998), (1019, 1329)]
bot_cols = [(29, 339), (357, 666), (689, 997), (1018, 1329)]
rows = [(9, 260), (317, 568)]


def make_ax(l, r, t, b):
    return fig.add_axes([l / W, 1 - b / H, (r - l) / W, (b - t) / H])


for row, (cols, names, datas) in enumerate([(top_cols, top_names, top_data),
                                             (bot_cols, bottom_names, bottom_data)]):
    t, b = rows[row]
    for (l, r), name, pts in zip(cols, names, datas):
        ax = make_ax(l, r, t, b)
        arr = np.array(pts)
        sc = ax.scatter(arr[:, 0], arr[:, 1], c=arr[:, 2], cmap='coolwarm',
                        vmin=0, vmax=vmax, s=15, linewidths=0)
        ax.set_xlim(-0.05, 1.05)
        ax.set_ylim(-0.05, 1.05)
        ax.set_xticks(np.arange(0, 1.01, 0.2))
        ax.set_yticks(np.arange(0, 1.01, 0.2))
        ax.tick_params(labelsize=6, length=2.5, width=0.6, pad=2)
        for sp in ax.spines.values():
            sp.set_linewidth(0.9)
            sp.set_color('#333333')
        ax.set_xlabel(name, fontsize=15, family='Liberation Serif', labelpad=4)
    cax = make_ax(1348, 1361, t, b)
    cb = fig.colorbar(sc, cax=cax, ticks=cbar_ticks)
    cb.ax.tick_params(labelsize=6, length=2.5, width=0.6, pad=2)
    cb.outline.set_linewidth(0.7)

fig.savefig('out.png', dpi=100)
